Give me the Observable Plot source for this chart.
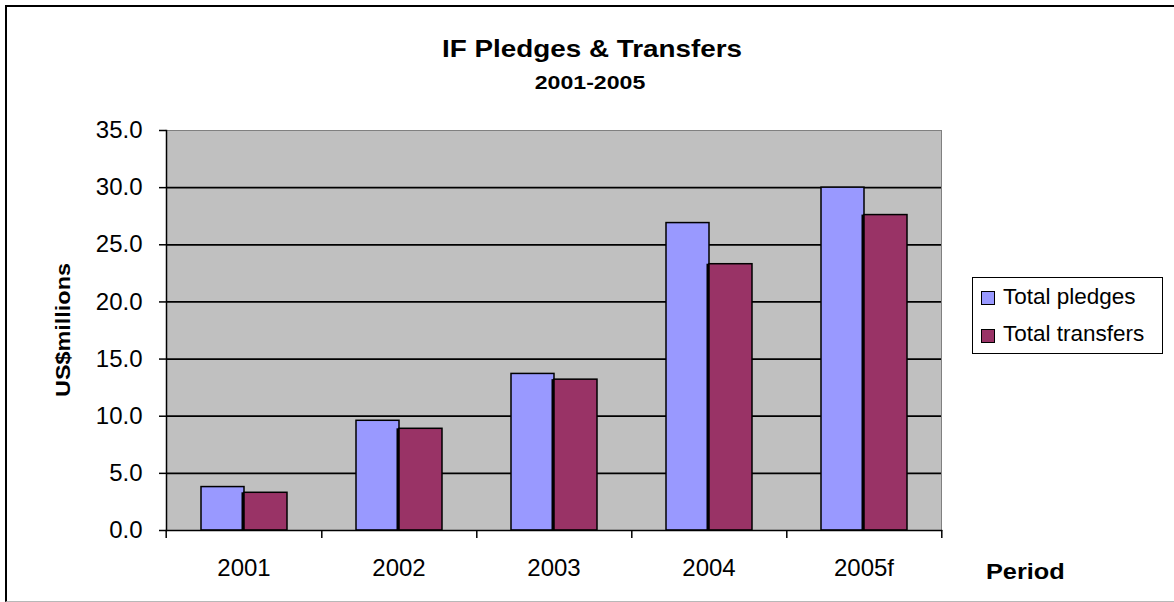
<!DOCTYPE html>
<html>
<head>
<meta charset="utf-8">
<script src="https://cdn.jsdelivr.net/npm/d3@7"></script>
<script src="https://cdn.jsdelivr.net/npm/@observablehq/plot@0.6"></script>
<style>
  html, body { margin: 0; padding: 0; background: #fff; }
  #wrap { position: relative; width: 1174px; height: 602px; overflow: hidden; background: #fff; }
  #wrap svg { position: absolute; left: 0; top: 0; }
  .abs { position: absolute; line-height: 1; white-space: nowrap; color: #000; }
  .bold { font-family: "Liberation Sans", Arial, sans-serif; font-weight: bold; }
  .reg { font-family: "Liberation Sans", Arial, sans-serif; }
</style>
</head>
<body>
<div id="wrap"></div>
<script>
// ---- data ----
const periods = ["2001", "2002", "2003", "2004", "2005f"];
const pledges = [3.8, 9.6, 13.7, 26.9, 30.0];
const transfers = [3.3, 8.9, 13.2, 23.3, 27.6];
const seriesNames = ["Total pledges", "Total transfers"];
const seriesColors = ["#9999ff", "#993366"];
const yTicks = [0, 5, 10, 15, 20, 25, 30, 35];
const gridValues = [5, 10, 15, 20, 25, 30];
const titleText = "IF Pledges & Transfers";
const subtitleText = "2001-2005";
const yLabel = "US$millions";
const xLabel = "Period";

const data = periods.flatMap((p, i) => [
  {period: p, series: seriesNames[0], value: pledges[i]},
  {period: p, series: seriesNames[1], value: transfers[i]}
]);
const pledgeRows = data.filter(d => d.series === seriesNames[0]);
const transferRows = data.filter(d => d.series === seriesNames[1]);

// ---- layout ----
const W = 1174, H = 602;
const mL = 164, mR = 232, mT = 130, mB = 72;
const step = (W - mL - mR) / periods.length;
const barOpts = {fx: "period", x: "series", y: "value", fill: "series", stroke: "#000", strokeWidth: 1.5};

const chart = Plot.plot({
  width: W, height: H,
  marginLeft: mL, marginRight: mR, marginTop: mT, marginBottom: mB,
  style: {fontFamily: "'Liberation Sans', Arial, sans-serif", fontSize: "24px", color: "#000", background: "transparent", overflow: "visible"},
  fx: {domain: periods, padding: 0, label: null},
  x: {domain: seriesNames, paddingInner: 0, paddingOuter: 0.77, axis: null},
  y: {domain: [0, 35], label: null},
  color: {domain: seriesNames, range: seriesColors},
  marks: [
    Plot.frame({facet: "super", fill: "#c0c0c0", stroke: "#808080"}),
    Plot.ruleY(gridValues, {stroke: "#000", strokeWidth: 1.7}),
    Plot.barY(pledgeRows, barOpts),
    // dark divider between the two bars of a group
    Plot.barY(transferRows, {fx: "period", x: "series", y: "value", fill: "#000", insetLeft: -2.5}),
    Plot.barY(transferRows, barOpts),
    Plot.frame({facet: "super", anchor: "left", stroke: "#000", strokeWidth: 1.5}),
    Plot.frame({facet: "super", anchor: "bottom", stroke: "#000", strokeWidth: 1.5}),
    Plot.axisY({ticks: yTicks, tickFormat: d3.format(".1f"), tickSize: 7, tickPadding: 17, strokeWidth: 1.5, label: null}),
    Plot.axisFx({anchor: "bottom", tickSize: 0, tickPadding: 28, label: null}),
    Plot.axisFx({anchor: "bottom", tickSize: 8, tickFormat: () => "", dx: step / 2, strokeWidth: 1.5, label: null}),
    Plot.axisFx({anchor: "bottom", ticks: [periods[0]], tickSize: 8, tickFormat: () => "", dx: -step / 2, strokeWidth: 1.5, label: null})
  ]
});

const wrap = document.getElementById("wrap");
wrap.appendChild(chart);

// outer chart border
const border = document.createElement("div");
border.style.cssText = "position:absolute;left:5px;top:5px;width:1180px;height:594px;border-top:2px solid #000;border-left:2px solid #000;border-bottom:1px solid #b8b8b8;";
wrap.appendChild(border);

function addText(text, cls, css) {
  const d = document.createElement("div");
  d.className = "abs " + cls;
  d.textContent = text;
  d.style.cssText += css;
  wrap.appendChild(d);
  return d;
}

addText(titleText, "bold", "left:292px;width:600px;text-align:center;top:37px;font-size:24px;transform:scaleX(1.16);");
addText(subtitleText, "bold", "left:290px;width:600px;text-align:center;top:74px;font-size:18.5px;transform:scaleX(1.25);");
addText(xLabel, "bold", "left:986px;top:561px;font-size:22px;transform-origin:0 50%;transform:scaleX(1.15);");
addText(yLabel, "bold", "left:63px;top:330px;font-size:20px;transform:translate(-50%,-50%) rotate(-90deg) scaleX(1.17);");

// legend
const leg = document.createElement("div");
leg.style.cssText = "position:absolute;left:972px;top:277px;width:189px;height:75px;border:1px solid #000;background:#fff;";
wrap.appendChild(leg);
seriesNames.forEach((name, i) => {
  const sw = document.createElement("div");
  sw.style.cssText = `position:absolute;left:8px;top:${13 + i * 38}px;width:12px;height:12px;border:1px solid #000;background:${seriesColors[i]};`;
  leg.appendChild(sw);
  const t = document.createElement("div");
  t.className = "abs reg";
  t.textContent = name;
  t.style.cssText += `left:30px;top:${8 + i * 37}px;font-size:22.5px;`;
  leg.appendChild(t);
});
</script>
</body>
</html>
